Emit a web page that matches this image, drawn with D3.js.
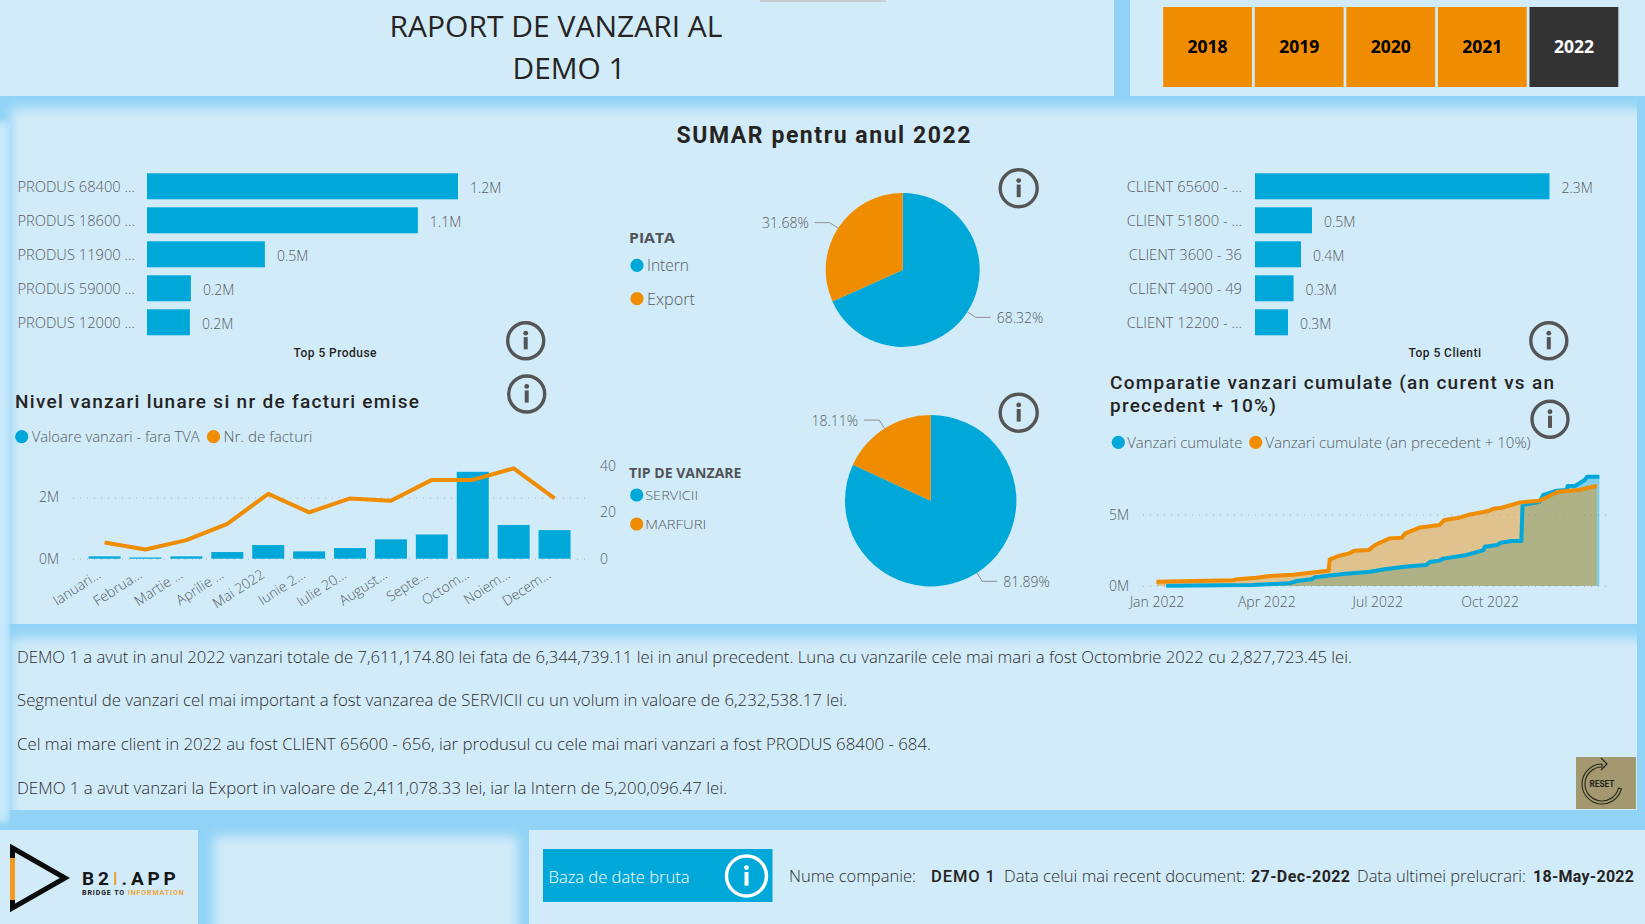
<!DOCTYPE html>
<html>
<head>
<meta charset="utf-8">
<title>Raport de vanzari</title>
<script src="https://cdn.jsdelivr.net/npm/d3@7/dist/d3.min.js"></script>
<style>
  html, body { margin: 0; padding: 0; background: #d2ebf9; overflow: hidden; }
  svg { display: block; }
  text { font-family: "Open Sans", sans-serif; }
</style>
</head>
<body>
<svg id="chart" width="1645" height="924"></svg>
<script>
const years = ['2018', '2019', '2020', '2021', '2022'];

const products = ['PRODUS 68400 ...', 'PRODUS 18600 ...', 'PRODUS 11900 ...', 'PRODUS 59000 ...', 'PRODUS 12000 ...'];
const productSales = [1.24, 1.08, 0.47, 0.175, 0.171];

const clients = ['CLIENT 65600 - ...', 'CLIENT 51800 - ...', 'CLIENT 3600 - 36', 'CLIENT 4900 - 49', 'CLIENT 12200 - ...'];
const clientSales = [2.33, 0.451, 0.364, 0.305, 0.261];

const months = ['Ianuari...', 'Februa...', 'Martie ...', 'Aprilie ...', 'Mai 2022', 'Iunie 2...', 'Iulie 20...', 'August...', 'Septe...', 'Octom...', 'Noiem...', 'Decem...'];
const monthlySales = [0.076, 0.04, 0.076, 0.217, 0.445, 0.239, 0.347, 0.63, 0.79, 2.83, 1.10, 0.93];
const monthlyInvoices = [7, 4, 8, 15, 28, 20, 26, 25, 34, 34, 39, 26];

const marketNames = ['Intern', 'Export'];
const marketShare = [68.32, 31.68];
const saleTypeNames = ['SERVICII', 'MARFURI'];
const saleTypeShare = [81.89, 18.11];

const cumulativeDates = ['2022-01-09', '2022-03-21', '2022-04-20', '2022-04-26', '2022-05-08', '2022-05-11', '2022-06-03', '2022-06-25', '2022-07-07', '2022-07-25', '2022-08-10', '2022-08-13', '2022-08-21', '2022-08-24', '2022-09-11', '2022-09-26', '2022-09-27', '2022-10-07', '2022-10-10', '2022-10-19', '2022-10-27', '2022-10-28', '2022-11-11', '2022-11-14', '2022-11-25', '2022-12-03', '2022-12-04', '2022-12-10', '2022-12-18', '2022-12-20', '2022-12-30'];
const cumulativeSales = [0.02, 0.07, 0.19, 0.35, 0.47, 0.61, 0.84, 1.0, 1.17, 1.36, 1.47, 1.68, 1.78, 1.92, 2.15, 2.52, 2.76, 2.87, 3.04, 3.15, 3.15, 5.68, 5.91, 6.38, 6.68, 6.73, 7.01, 7.01, 7.43, 7.66, 7.66];

const previousDates = ['2022-01-01', '2022-03-05', '2022-03-08', '2022-03-24', '2022-04-04', '2022-04-23', '2022-05-07', '2022-05-22', '2022-05-23', '2022-05-30', '2022-06-08', '2022-06-12', '2022-06-24', '2022-06-28', '2022-07-02', '2022-07-11', '2022-07-21', '2022-07-24', '2022-08-05', '2022-08-21', '2022-08-25', '2022-09-07', '2022-09-15', '2022-09-30', '2022-10-04', '2022-10-11', '2022-10-26', '2022-11-11', '2022-11-26', '2022-12-13', '2022-12-28'];
const previousSales = [0.30, 0.40, 0.47, 0.58, 0.70, 0.79, 0.93, 1.07, 1.87, 2.1, 2.29, 2.48, 2.52, 2.8, 2.99, 3.34, 3.39, 3.69, 4.11, 4.28, 4.63, 4.81, 5.02, 5.26, 5.42, 5.49, 5.86, 5.98, 6.61, 6.73, 7.03];

const summaryLines = [
  'DEMO 1 a avut in anul 2022 vanzari totale de 7,611,174.80 lei fata de 6,344,739.11 lei in anul precedent. Luna cu vanzarile cele mai mari a fost Octombrie 2022 cu 2,827,723.45 lei.',
  'Segmentul de vanzari cel mai important a fost vanzarea de SERVICII cu un volum in valoare de 6,232,538.17 lei.',
  'Cel mai mare client in 2022 au fost CLIENT 65600 - 656, iar produsul cu cele mai mari vanzari a fost PRODUS 68400 - 684.',
  'DEMO 1 a avut vanzari la Export in valoare de 2,411,078.33 lei, iar la Intern de 5,200,096.47 lei.'
];

const BLUE = '#00a8d9', ORANGE = '#f08c00', PANEL = '#d2ebf9', SHADOW = '#90d3f6';
const GREY = '#565b5f', DARK = '#252423', DIN = 'Roboto, sans-serif';

const svg = d3.select('#chart');
const defs = svg.append('defs');
const blur = (id, amount) => defs.append('filter').attr('id', id)
  .attr('x', '-5%').attr('y', '-25%').attr('width', '110%').attr('height', '150%')
  .append('feGaussianBlur').attr('stdDeviation', amount);
blur('soft', 6);
blur('softer', 3);

function clip(id, x, y, w, h) {
  defs.append('clipPath').attr('id', id).append('rect')
    .attr('x', x).attr('y', y).attr('width', w).attr('height', h);
}

function box(x, y, w, h, fill, parent = svg) {
  return parent.append('rect').attr('x', x).attr('y', y).attr('width', w).attr('height', h).attr('fill', fill);
}

function softPanel(id, x, y, w, h, limit) {
  clip(id, limit[0], limit[1], limit[2], limit[3]);
  const g = svg.append('g').attr('clip-path', `url(#${id})`);
  box(x, y, w, h, PANEL, g).attr('filter', 'url(#soft)');
}

// width, when given, fits the string onto the extent
function label(x, y, str, opts = {}, parent = svg) {
  const t = parent.append('text')
    .attr('x', x).attr('y', y)
    .attr('dominant-baseline', 'central')
    .attr('text-anchor', opts.anchor || 'start')
    .attr('fill', opts.fill || GREY)
    .attr('font-size', opts.size || 14)
    .attr('font-weight', opts.weight || 300)
    .style('font-family', opts.font || null)
    .style('letter-spacing', opts.spacing || null)
    .text(str);
  if (opts.width) t.attr('textLength', opts.width).attr('lengthAdjust', opts.adjust || 'spacingAndGlyphs');
  return t;
}

function din(x, y, str, size, width, weight = 500) {
  return label(x, y, str, { size, weight, fill: DARK, font: DIN, width, adjust: 'spacing' });
}

function infoIcon(x, y, r, color, sw = 3.4) {
  const g = svg.append('g').attr('transform', `translate(${x},${y})`);
  g.append('circle').attr('r', r).attr('fill', 'none').attr('stroke', color).attr('stroke-width', sw);
  g.append('circle').attr('cy', -r * 0.42).attr('r', 2.4).attr('fill', color);
  g.append('rect').attr('x', -2).attr('y', -r * 0.2).attr('width', 4).attr('height', r * 0.68).attr('fill', color);
}

function dotLegend(x, y, color, str, opts) {
  svg.append('circle').attr('cx', x).attr('cy', y).attr('r', 6.6).attr('fill', color);
  label(x + (opts.gap || 10), y, str, opts);
}

function cleanAxis(g, size = 14) {
  g.select('.domain').remove();
  g.selectAll('.tick line').remove();
  g.selectAll('.tick text').attr('fill', GREY).attr('font-size', size).attr('font-weight', 300).style('font-family', '"Open Sans", sans-serif');
}

function dottedAxis(g) {
  g.select('.domain').remove();
  g.selectAll('.tick line').attr('stroke', '#aebfca').attr('stroke-width', 1.2).attr('stroke-dasharray', '1 6');
  g.selectAll('.tick text').attr('fill', GREY).attr('font-size', 14).attr('font-weight', 300).style('font-family', '"Open Sans", sans-serif');
}

function drawBackground() {
  box(0, 0, 1645, 924, SHADOW);
  box(-6, 122, 15, 700, '#c6e8fa').attr('filter', 'url(#softer)');
  softPanel('clipText', 11, 638, 1660, 200, [0, 620, 1637, 190]);
  softPanel('clipMain', 11, 108, 1660, 540, [0, 90, 1637, 534]);
  softPanel('clipMid', 214, 836, 304, 120, [0, 820, 1645, 104]);
  box(0, 0, 1114, 96, PANEL);
  box(1130, 0, 515, 96, PANEL);
  box(0, 830, 198, 94, PANEL);
  box(529, 830, 1116, 94, PANEL);
  box(760, 0, 126, 2, '#c9ccd0');
}

function drawHeader() {
  label(556, 25.5, 'RAPORT DE VANZARI AL', { anchor: 'middle', size: 29, weight: 400, fill: DARK, width: 333 });
  label(569, 67, 'DEMO 1', { anchor: 'middle', size: 29, weight: 400, fill: DARK, width: 113 });
  label(823.5, 135.5, 'SUMAR pentru anul 2022', { anchor: 'middle', size: 23, weight: 700, fill: DARK, font: DIN, width: 294, adjust: 'spacing' });

  const x = d3.scaleBand().domain(years).range([1162, 1619.5]).paddingInner(0.03).paddingOuter(0.013);
  svg.append('g').selectAll('rect').data(years).join('rect')
    .attr('x', d => x(d)).attr('y', 7).attr('width', x.bandwidth()).attr('height', 80)
    .attr('fill', d => d === '2022' ? '#333333' : ORANGE);
  svg.append('g').selectAll('text').data(years).join('text')
    .attr('x', d => x(d) + x.bandwidth() / 2).attr('y', 46)
    .attr('text-anchor', 'middle').attr('dominant-baseline', 'central')
    .attr('font-size', 17.5).attr('font-weight', 700)
    .attr('fill', d => d === '2022' ? '#ffffff' : '#000000')
    .text(d => d);
}

function drawTopBars(names, values, x0, x1, padding, caption, captionX, captionW) {
  const x = d3.scaleLinear().domain([0, d3.max(values)]).range([x0, x1]);
  const y = d3.scaleBand().domain(names).range([169.3, 339.3]).paddingInner(8 / 34).paddingOuter(4 / 34);
  const rows = names.map((name, i) => ({ name, value: values[i] }));

  svg.append('g').attr('transform', `translate(${x0},0)`)
    .call(d3.axisLeft(y).tickSize(0).tickPadding(padding))
    .call(cleanAxis, 14.7)
    .selectAll('.tick text').attr('y', 0.8);

  svg.append('g').selectAll('rect').data(rows).join('rect')
    .attr('x', x0).attr('y', d => y(d.name))
    .attr('width', d => x(d.value) - x0).attr('height', y.bandwidth())
    .attr('fill', BLUE);

  const g = svg.append('g');
  rows.forEach(d => {
    label(x(d.value) + 12, y(d.name) + y.bandwidth() / 2 + 1, d3.format('.1f')(d.value) + 'M', { size: 14 }, g);
  });

  din(captionX, 353, caption, 12, captionW);
}

function drawMonthly() {
  din(15, 401.5, 'Nivel vanzari lunare si nr de facturi emise', 19, 404);
  dotLegend(21.7, 436.7, BLUE, 'Valoare vanzari - fara TVA', { size: 14.5, width: 168 });
  dotLegend(213.5, 436.7, ORANGE, 'Nr. de facturi', { size: 14.5, width: 89 });

  const x = d3.scaleBand().domain(months).range([84.15, 575]).paddingInner(0.2176).paddingOuter(0.1088);
  const ySales = d3.scaleLinear().domain([0, 2]).range([558.7, 497.3]);
  const yCount = d3.scaleLinear().domain([0, 40]).range([558.7, 466]);

  svg.append('g').attr('transform', 'translate(73,0)')
    .call(d3.axisLeft(ySales).tickValues([0, 2]).tickSize(-512).tickPadding(14).tickFormat(d => d + 'M'))
    .call(dottedAxis);

  svg.append('g').attr('transform', 'translate(600,0)')
    .call(d3.axisRight(yCount).tickValues([0, 20, 40]).tickSize(0).tickPadding(0))
    .call(cleanAxis);

  svg.append('g').attr('transform', 'translate(0,565)')
    .call(d3.axisBottom(x).tickSize(0).tickPadding(0))
    .call(cleanAxis)
    .selectAll('.tick text')
    .attr('text-anchor', 'end').attr('dy', 0).attr('x', -8.8).attr('y', 3)
    .attr('dominant-baseline', 'central')
    .attr('transform', 'rotate(-33)');

  svg.append('g').selectAll('rect').data(monthlySales).join('rect')
    .attr('x', (d, i) => x(months[i])).attr('y', d => ySales(d))
    .attr('width', x.bandwidth()).attr('height', d => ySales(0) - ySales(d))
    .attr('fill', BLUE);

  const line = d3.line()
    .x((d, i) => x(months[i]) + x.bandwidth() / 2)
    .y(d => yCount(d));
  svg.append('path').attr('d', line(monthlyInvoices))
    .attr('fill', 'none').attr('stroke', ORANGE).attr('stroke-width', 4).attr('stroke-linejoin', 'round');
}

function drawPie(values, cx, cy, r) {
  const arcs = d3.pie().sort(null)(values);
  const arc = d3.arc().innerRadius(0).outerRadius(r);
  const colors = [BLUE, ORANGE];
  const g = svg.append('g').attr('transform', `translate(${cx},${cy})`);
  g.selectAll('path').data(arcs).join('path')
    .attr('d', arc).attr('fill', (d, i) => colors[i]);

  arcs.forEach(d => {
    const mid = (d.startAngle + d.endAngle) / 2;
    const sx = Math.sin(mid), sy = -Math.cos(mid);
    const side = sx > 0 ? 1 : -1;
    const px = sx * (r + 10), py = sy * (r + 10);
    g.append('path')
      .attr('d', d3.line()([[sx * r, sy * r], [px, py], [px + side * 15, py]]))
      .attr('fill', 'none').attr('stroke', '#8b9296').attr('stroke-width', 1);
    label(px + side * 21, py, d.value.toFixed(2) + '%', { size: 14, anchor: side > 0 ? 'start' : 'end' }, g);
  });
}

function drawPies() {
  label(629, 237, 'PIATA', { size: 15, weight: 700, fill: '#505458', width: 46 });
  dotLegend(637, 265.3, BLUE, marketNames[0], { size: 15.5, width: 42 });
  dotLegend(637, 298.7, ORANGE, marketNames[1], { size: 15.5, width: 48 });
  drawPie(marketShare, 902.7, 270, 77);

  label(629, 472.7, 'TIP DE VANZARE', { size: 14, weight: 700, fill: '#505458', width: 112.5 });
  dotLegend(636.7, 495, BLUE, saleTypeNames[0], { size: 13.5, gap: 8.5, width: 53 });
  dotLegend(636.7, 524, ORANGE, saleTypeNames[1], { size: 13.5, gap: 8.5, width: 61 });
  drawPie(saleTypeShare, 930.7, 500.7, 85.7);
}

function drawCumulative() {
  din(1110, 382, 'Comparatie vanzari cumulate (an curent vs an', 19, 444);
  din(1110, 405.5, 'precedent + 10%)', 19, 166);
  dotLegend(1118.3, 442.3, BLUE, 'Vanzari cumulate', { size: 14.5, gap: 9, width: 115 });
  dotLegend(1255.7, 442.3, ORANGE, 'Vanzari cumulate (an precedent + 10%)', { size: 14.5, gap: 9.5, width: 265.5 });

  const parse = d3.timeParse('%Y-%m-%d');
  const x = d3.scaleTime().domain([parse('2022-01-01'), parse('2022-12-30')]).range([1156.5, 1599.4]);
  const y = d3.scaleLinear().domain([0, 5]).range([586, 514.7]);
  const current = cumulativeDates.map((d, i) => ({ date: parse(d), value: cumulativeSales[i] }));
  const previous = previousDates.map((d, i) => ({ date: parse(d), value: previousSales[i] }));

  svg.append('g').attr('transform', 'translate(1143,0)')
    .call(d3.axisLeft(y).tickValues([0, 5]).tickSize(-469).tickPadding(14).tickFormat(d => d + 'M'))
    .call(dottedAxis);

  svg.append('g').attr('transform', 'translate(0,593)')
    .call(d3.axisBottom(x).tickValues(['2022-01-01', '2022-04-01', '2022-07-01', '2022-10-01'].map(parse)).tickSize(0).tickPadding(0).tickFormat(d3.timeFormat('%b %Y')))
    .call(cleanAxis)
    .selectAll('.tick text').attr('dy', 0).attr('y', 8.5).attr('dominant-baseline', 'central');

  const area = d3.area().x(d => x(d.date)).y0(y(0)).y1(d => y(d.value));
  const line = d3.line().x(d => x(d.date)).y(d => y(d.value));

  svg.append('path').attr('d', area(current)).attr('fill', BLUE).attr('opacity', 0.4);
  svg.append('path').attr('d', area(previous)).attr('fill', ORANGE).attr('opacity', 0.43);
  svg.append('path').attr('d', line(current)).attr('fill', 'none').attr('stroke', BLUE).attr('stroke-width', 4).attr('stroke-linejoin', 'round');
  svg.append('path').attr('d', line(previous)).attr('fill', 'none').attr('stroke', ORANGE).attr('stroke-width', 4).attr('stroke-linejoin', 'round');
}

function drawSummary() {
  const rowY = [656, 699.5, 743, 787.5];
  const rowW = [1335, 830, 914, 710];
  summaryLines.forEach((str, i) => {
    label(17, rowY[i], str, { size: 16.5, fill: '#2b2b2b', width: rowW[i] });
  });

  box(1576, 757, 60, 52, '#a3986f');
  const g = svg.append('g').attr('transform', 'translate(1602,784)');
  const ring = d3.arc().innerRadius(17).outerRadius(20).startAngle(Math.PI / 2 + 0.25).endAngle(Math.PI * 2);
  g.append('path').attr('d', ring()).attr('fill', 'none').attr('stroke', '#26261e').attr('stroke-width', 1.1);
  g.append('path').attr('d', d3.line()([[-1, -26], [5, -20], [-1, -14]])).attr('fill', 'none').attr('stroke', '#26261e').attr('stroke-width', 1.2);
  label(0, 0, 'RESET', { size: 8.5, weight: 700, anchor: 'middle', fill: '#26261e', font: DIN, width: 25 }, g);
}

function drawFooter() {
  // logo
  const logo = svg.append('g');
  logo.append('path').attr('d', d3.line()([[12.5, 848], [65, 878], [12.5, 908]]) + 'Z')
    .attr('fill', 'none').attr('stroke', '#0b0b0b').attr('stroke-width', 5).attr('stroke-linejoin', 'miter');
  logo.append('line').attr('x1', 12.5).attr('x2', 12.5).attr('y1', 858).attr('y2', 900)
    .attr('stroke', '#f09a20').attr('stroke-width', 5);
  const brand = label(82, 878, 'B2', { size: 19, weight: 700, fill: '#14161a', font: DIN, spacing: '0.2em' });
  brand.append('tspan').attr('fill', '#f09a20').attr('font-weight', 400).text('I');
  brand.append('tspan').text('.APP');
  const tag = label(82, 892.5, 'BRIDGE TO ', { size: 7, weight: 700, fill: '#14161a', font: DIN, spacing: '0.13em' });
  tag.append('tspan').attr('fill', '#f0a540').text('INFORMATION');

  box(543, 849, 229.5, 53, BLUE);
  label(548.5, 877, 'Baza de date bruta', { size: 16, fill: '#ffffff', width: 141 });
  infoIcon(746.5, 876, 20, '#ffffff');

  label(789, 876, 'Nume companie:', { size: 16, fill: '#2b2b2b', width: 127 });
  din(931, 876, 'DEMO 1', 16.5, 64);
  label(1004, 876, 'Data celui mai recent document:', { size: 16, fill: '#2b2b2b', width: 241.5 });
  din(1251, 876, '27-Dec-2022', 16, 99, 700);
  label(1357, 876, 'Data ultimei prelucrari:', { size: 16, fill: '#2b2b2b', width: 169 });
  din(1533, 876, '18-May-2022', 16, 101, 700);
}

drawBackground();
drawHeader();
drawTopBars(products, productSales, 147, 458, 12, 'Top 5 Produse', 293.5, 83);
drawTopBars(clients, clientSales, 1255, 1549.5, 13, 'Top 5 Clienti', 1408.5, 72.5);
drawMonthly();
drawPies();
drawCumulative();
drawSummary();
drawFooter();

infoIcon(1018.7, 188.3, 18.5, '#555555');
infoIcon(1018.7, 412.7, 18.5, '#555555');
infoIcon(525.7, 340.7, 18, '#555555');
infoIcon(526.7, 394, 18, '#555555');
infoIcon(1548.8, 340.7, 18, '#555555');
infoIcon(1550, 419.3, 18, '#555555');
</script>
</body>
</html>
